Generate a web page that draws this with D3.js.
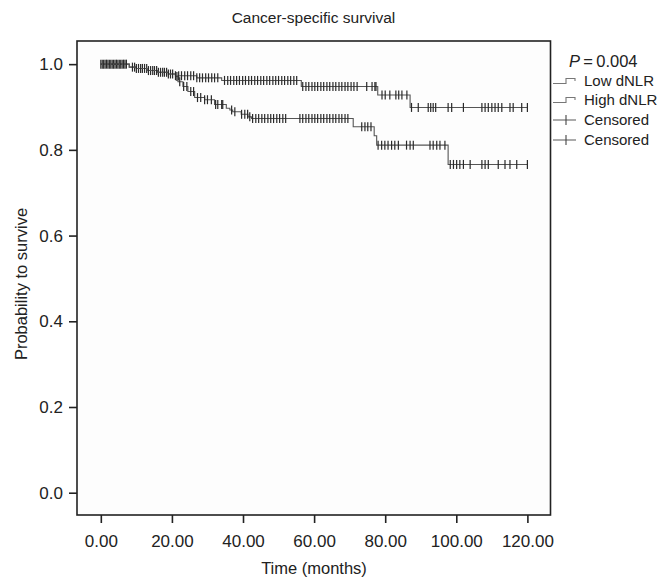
<!DOCTYPE html>
<html>
<head>
<meta charset="utf-8">
<script src="https://cdn.jsdelivr.net/npm/d3@7"></script>
<style>
  html, body { margin: 0; padding: 0; background: #fff; }
  svg text { font-family: "Liberation Sans", Arial, Helvetica, sans-serif; fill: #222; }
</style>
</head>
<body>
<svg id="chart" width="662" height="579"></svg>
<script>
// ---- Data ----
const xTicks = [0, 20, 40, 60, 80, 100, 120];
const yTicks = [0, 0.2, 0.4, 0.6, 0.8, 1.0];

const lowTimes = [0, 8, 10, 13, 16, 19, 21, 27, 34, 56.4, 77.9, 87, 120];
const lowSurv  = [1, 0.993, 0.99, 0.985, 0.981, 0.977, 0.973, 0.968, 0.962, 0.948, 0.928, 0.899, 0.899];

const highTimes = [0, 8, 10, 13, 16, 19, 21, 21.7, 23.1, 24.5, 26.4, 29.2, 32, 35.3, 36.3, 37.1, 39.5, 41.4, 42.4, 71, 76.9, 77.6, 97.7, 120];
const highSurv  = [1, 0.993, 0.99, 0.985, 0.981, 0.977, 0.971, 0.959, 0.948, 0.936, 0.922, 0.917, 0.906, 0.897, 0.893, 0.889, 0.883, 0.877, 0.873, 0.854, 0.833, 0.811, 0.766, 0.766];

const lowCensored = [0, 0.8, 1.6, 2.4, 3.2, 4, 4.8, 5.6, 6.4, 7.2,
  8.9, 10, 11.2, 12.3, 13.4, 14.6, 15.7, 16.8, 17.9, 19, 20.2,
  21, 21.9, 22.7, 23.6, 24.4, 25.3, 26.1, 27, 27.8, 28.6, 29.5, 30.3, 31.2, 32, 32.9,
  34.8, 35.7, 36.5, 37.4, 38.2, 39, 39.9, 40.7, 41.6, 42.4, 43.3, 44.1, 45, 45.8, 46.7,
  47.5, 48.4, 49.2, 50, 50.9, 51.7, 52.6, 53.4, 54.3, 55.1,
  56.8, 57.7, 58.5, 59.4, 60.2, 61, 61.9, 62.7, 63.6, 64.4, 65.3, 66.1, 67, 67.8, 68.7,
  69.5, 70.4, 71.2, 72.1, 74.8, 76.3, 77.1, 77.4,
  79.1, 80, 81.3, 83, 83.8, 84.7, 86.1,
  87.4, 89.3, 92.1, 92.8, 93.5, 94.2, 97.7, 98.7,
  102, 107.2, 108.1, 109, 110, 110.9, 111.8, 112.8, 115.1, 116, 118.4, 120];

const highCensored = [0.4, 1.2, 2, 2.8, 3.6, 4.4, 5.2, 6, 6.8,
  9.5, 10.6, 11.7, 12.9, 14, 15.1, 16.2, 17.4, 18.5, 19.6,
  21.4, 22.2, 23.3, 24.2, 25.3, 26.1, 27.2, 28.1, 29.2, 30, 31.1, 32.3,
  32.9, 34, 34.3, 36.8, 37.7, 39.6, 40.5, 41.3, 41.9,
  42.7, 43.6, 44.4, 45.3, 46.1, 47, 47.8, 48.6, 49.5, 50.3, 51.2, 52,
  56, 56.8, 57.7, 58.5, 59.4, 60.2, 61, 61.9, 62.7, 63.6, 64.4, 65.3, 66.1, 67, 67.8, 68.7, 69.5,
  73.4, 74.3, 75.1, 76,
  78, 79, 79.9, 80.8, 81.8, 82.7, 83.7, 86, 87, 87.9,
  92.6, 93.5, 94.5, 95.4, 96.8,
  98.3, 99.2, 100.1, 101, 102, 103.9, 107.2, 108.1, 109, 111.8, 113.7, 115.1, 117, 120];

const legendLabels = ["Low dNLR", "High dNLR", "Censored", "Censored"];
const pLabel = "0.004";
const titleText = "Cancer-specific survival";
const xLabel = "Time (months)";
const yLabel = "Probability to survive";

// ---- Layout ----
const svg = d3.select("#chart");
const x = d3.scaleLinear().domain([-6.7, 126.5]).range([77, 550.5]);
const y = d3.scaleLinear().domain([-0.052, 1.054]).range([515, 41]);

const lineColor = "#555";
const markColor = "#2a2a2a";

// plot background + frame
svg.append("rect")
  .attr("x", x.range()[0]).attr("y", y.range()[1])
  .attr("width", x.range()[1] - x.range()[0])
  .attr("height", y.range()[0] - y.range()[1])
  .attr("fill", "#fdfdfd")
  .attr("stroke", "#222").attr("stroke-width", 1.6);

// axes
const xAxis = svg.append("g")
  .attr("transform", `translate(0,${y.range()[0]})`)
  .call(d3.axisBottom(x).tickValues(xTicks).tickSize(8).tickPadding(12).tickFormat(d3.format(".2f")));
const yAxis = svg.append("g")
  .attr("transform", `translate(${x.range()[0]},0)`)
  .call(d3.axisLeft(y).tickValues(yTicks).tickSize(8).tickPadding(6).tickFormat(d3.format(".1f")));
[xAxis, yAxis].forEach(g => {
  g.select(".domain").remove();
  g.selectAll(".tick line").attr("stroke", "#222").attr("stroke-width", 1.6);
  g.selectAll(".tick text").attr("font-size", 17).attr("fill", "#222")
    .attr("font-family", "'Liberation Sans', Arial, sans-serif");
});

// titles
svg.append("text").attr("x", 313.5).attr("y", 23).attr("text-anchor", "middle")
  .attr("font-size", 15.5).text(titleText);
svg.append("text").attr("x", 314).attr("y", 574).attr("text-anchor", "middle")
  .attr("font-size", 16.5).text(xLabel);
svg.append("text").attr("transform", "translate(27,284) rotate(-90)")
  .attr("text-anchor", "middle").attr("font-size", 16.5).text(yLabel);

// curves
function survAt(times, surv, t) {
  let s = surv[0];
  for (let i = 0; i < times.length; i++) { if (times[i] <= t) s = surv[i]; }
  return s;
}
const line = d3.line().x(d => x(d[0])).y(d => y(d[1])).curve(d3.curveStepAfter);

function drawCurve(times, surv, censored) {
  const pts = times.map((t, i) => [t, surv[i]]);
  svg.append("path").datum(pts).attr("d", line)
    .attr("fill", "none").attr("stroke", lineColor).attr("stroke-width", 1.1);
  svg.append("g").selectAll("line").data(censored).join("line")
    .attr("x1", d => x(d)).attr("x2", d => x(d))
    .attr("y1", d => y(survAt(times, surv, d)) - 4.5)
    .attr("y2", d => y(survAt(times, surv, d)) + 4.5)
    .attr("stroke", markColor).attr("stroke-width", 1.2);
}
drawCurve(highTimes, highSurv, highCensored);
drawCurve(lowTimes, lowSurv, lowCensored);

// legend
const lg = svg.append("g");
const pt = lg.append("text").attr("x", 569).attr("y", 67).attr("font-size", 16.5);
pt.append("tspan").attr("font-style", "italic").text("P");
pt.append("tspan").text("\u2009=\u20090.004".replace("0.004", pLabel));

const rowY = [81, 100, 120, 140];
legendLabels.forEach((lab, i) => {
  const cy = rowY[i];
  if (i < 2) {
    lg.append("path")
      .attr("d", `M553,${cy + 2.5}H566V${cy - 2.5}H575V${cy}`)
      .attr("fill", "none").attr("stroke", "#777").attr("stroke-width", 1.1);
  } else {
    lg.append("line").attr("x1", 553).attr("x2", 576).attr("y1", cy).attr("y2", cy)
      .attr("stroke", "#666").attr("stroke-width", 1.1);
    lg.append("line").attr("x1", 566).attr("x2", 566).attr("y1", cy - 5).attr("y2", cy + 5)
      .attr("stroke", "#444").attr("stroke-width", 1.1);
  }
  lg.append("text").attr("x", 584).attr("y", cy + 5).attr("font-size", 15).text(lab);
});
</script>
</body>
</html>
